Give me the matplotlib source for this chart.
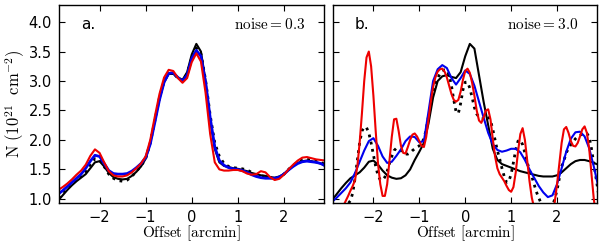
import matplotlib
matplotlib.use("Agg")
import matplotlib.pyplot as plt

plt.rcParams['mathtext.fontset'] = 'cm'
plt.rcParams['font.family'] = ['DejaVu Sans']

offset = [-2.9, -2.8, -2.7, -2.6, -2.5, -2.4, -2.3, -2.2, -2.1, -2.0,
          -1.9, -1.8, -1.7, -1.6, -1.5, -1.4, -1.3, -1.2, -1.1, -1.0,
          -0.9, -0.8, -0.7, -0.6, -0.5, -0.4, -0.3, -0.2, -0.1, 0.0,
          0.1, 0.2, 0.3, 0.4, 0.5, 0.6, 0.7, 0.8, 0.9, 1.0,
          1.1, 1.2, 1.3, 1.4, 1.5, 1.6, 1.7, 1.8, 1.9, 2.0,
          2.1, 2.2, 2.3, 2.4, 2.5, 2.6, 2.7, 2.8, 2.9]

offset_fine = [-2.90, -2.85, -2.80, -2.75, -2.70, -2.65, -2.60, -2.55, -2.50, -2.45,
               -2.40, -2.35, -2.30, -2.25, -2.20, -2.15, -2.10, -2.05, -2.00, -1.95,
               -1.90, -1.85, -1.80, -1.75, -1.70, -1.65, -1.60, -1.55, -1.50, -1.45,
               -1.40, -1.35, -1.30, -1.25, -1.20, -1.15, -1.10, -1.05, -1.00, -0.95,
               -0.90, -0.85, -0.80, -0.75, -0.70, -0.65, -0.60, -0.55, -0.50, -0.45,
               -0.40, -0.35, -0.30, -0.25, -0.20, -0.15, -0.10, -0.05, 0.00, 0.05,
               0.10, 0.15, 0.20, 0.25, 0.30, 0.35, 0.40, 0.45, 0.50, 0.55,
               0.60, 0.65, 0.70, 0.75, 0.80, 0.85, 0.90, 0.95, 1.00, 1.05,
               1.10, 1.15, 1.20, 1.25, 1.30, 1.35, 1.40, 1.45, 1.50, 1.55,
               1.60, 1.65, 1.70, 1.75, 1.80, 1.85, 1.90, 1.95, 2.00, 2.05,
               2.10, 2.15, 2.20, 2.25, 2.30, 2.35, 2.40, 2.45, 2.50, 2.55,
               2.60, 2.65, 2.70, 2.75, 2.80, 2.85, 2.90]

# Panel a (noise = 0.3)
a_true = [0.97, 1.06, 1.15, 1.23, 1.30, 1.36, 1.42, 1.52, 1.62, 1.64,
          1.55, 1.44, 1.37, 1.34, 1.33, 1.34, 1.39, 1.46, 1.55, 1.68,
          1.95, 2.33, 2.70, 2.98, 3.12, 3.12, 3.06, 3.02, 3.15, 3.45,
          3.63, 3.50, 3.00, 2.35, 1.85, 1.62, 1.56, 1.54, 1.52, 1.51,
          1.49, 1.47, 1.44, 1.42, 1.40, 1.39, 1.37, 1.36, 1.38, 1.42,
          1.49, 1.56, 1.61, 1.64, 1.65, 1.64, 1.62, 1.60, 1.56]
a_dot = [1.02, 1.10, 1.18, 1.25, 1.32, 1.39, 1.47, 1.58, 1.68, 1.66,
         1.55, 1.42, 1.35, 1.31, 1.30, 1.32, 1.38, 1.47, 1.56, 1.68,
         1.95, 2.33, 2.72, 3.00, 3.13, 3.13, 3.05, 3.00, 3.12, 3.40,
         3.56, 3.46, 3.02, 2.42, 1.95, 1.72, 1.60, 1.55, 1.53, 1.52,
         1.51, 1.49, 1.45, 1.41, 1.39, 1.38, 1.36, 1.35, 1.37, 1.42,
         1.50, 1.57, 1.62, 1.66, 1.67, 1.66, 1.64, 1.62, 1.58]
a_blue = [1.08, 1.14, 1.21, 1.28, 1.35, 1.42, 1.52, 1.64, 1.74, 1.72,
          1.60, 1.48, 1.43, 1.42, 1.42, 1.43, 1.47, 1.53, 1.60, 1.70,
          1.93, 2.30, 2.68, 2.98, 3.13, 3.14, 3.06, 3.00, 3.10, 3.38,
          3.52, 3.42, 2.98, 2.38, 1.88, 1.65, 1.57, 1.53, 1.51, 1.50,
          1.48, 1.45, 1.41, 1.38, 1.36, 1.35, 1.35, 1.35, 1.37, 1.42,
          1.49, 1.55, 1.60, 1.63, 1.64, 1.63, 1.62, 1.60, 1.56]
a_red = [1.15, 1.20, 1.26, 1.33, 1.41, 1.48, 1.58, 1.73, 1.84, 1.78,
         1.62, 1.47, 1.40, 1.38, 1.38, 1.40, 1.45, 1.52, 1.60, 1.72,
         2.00, 2.40, 2.78, 3.06, 3.19, 3.17, 3.05, 2.97, 3.05, 3.32,
         3.47, 3.33, 2.80, 2.10, 1.62, 1.50, 1.48, 1.48, 1.49, 1.49,
         1.47, 1.43, 1.41, 1.42, 1.47, 1.45, 1.37, 1.32, 1.34, 1.41,
         1.50, 1.58, 1.65, 1.70, 1.71, 1.69, 1.67, 1.66, 1.65]

# Panel b (noise = 3.0)
b_true = [0.98, 1.08, 1.18, 1.27, 1.35, 1.40, 1.45, 1.53, 1.63, 1.65,
          1.58, 1.48, 1.40, 1.36, 1.34, 1.35, 1.40, 1.50, 1.66, 1.80,
          1.95, 2.28, 2.72, 3.00, 3.08, 3.10, 3.07, 3.05, 3.15, 3.42,
          3.63, 3.55, 3.10, 2.65, 2.25, 1.85, 1.66, 1.59, 1.56, 1.53,
          1.50, 1.47, 1.45, 1.43, 1.41, 1.39, 1.38, 1.38, 1.38, 1.40,
          1.45, 1.52, 1.59, 1.64, 1.66, 1.66, 1.64, 1.61, 1.58]
b_blue = [0.95, 1.02, 1.10, 1.18, 1.28, 1.44, 1.63, 1.82, 1.98, 2.03,
          1.90, 1.72, 1.61, 1.63, 1.73, 1.84, 1.98, 2.06, 2.05, 1.96,
          1.98, 2.48, 3.00, 3.20, 3.27, 3.22, 3.05, 2.94, 3.05, 3.18,
          3.12, 2.92, 2.65, 2.38, 2.12, 1.93, 1.83, 1.80, 1.82, 1.85,
          1.85, 1.79, 1.66, 1.50, 1.36, 1.22, 1.11, 1.03, 1.06, 1.25,
          1.52, 1.80, 2.02, 2.13, 2.14, 2.06, 1.86, 1.55, 1.20]
b_dot = [0.70, 0.70, 0.72, 0.74, 0.78, 0.82, 0.87, 0.92, 0.97, 1.10,
         1.35, 1.65, 1.95, 2.15, 2.22, 2.21, 2.12, 1.95, 1.75, 1.55,
         1.40, 1.32, 1.32, 1.37, 1.47, 1.60, 1.72, 1.82, 1.86, 1.85,
         1.82, 1.78, 1.76, 1.76, 1.78, 1.82, 1.85, 1.88, 1.90, 1.95,
         2.02, 2.18, 2.40, 2.60, 2.80, 2.95, 3.05, 3.12, 3.17, 3.19,
         3.19, 3.10, 2.92, 2.68, 2.48, 2.45, 2.62, 2.85, 2.98, 2.98,
         2.88, 2.72, 2.55, 2.44, 2.39, 2.36, 2.36, 2.39, 2.40, 2.33,
         2.18, 2.00, 1.82, 1.68, 1.52, 1.38, 1.28, 1.30, 1.42, 1.62,
         1.83, 1.98, 2.00, 1.92, 1.78, 1.62, 1.48, 1.38, 1.25, 1.12,
         1.02, 0.93, 0.85, 0.79, 0.76, 0.80, 0.88, 1.00, 1.15, 1.35,
         1.55, 1.65, 1.78, 1.86, 1.92, 1.97, 2.02, 2.06, 2.08, 2.10,
         2.11, 2.11, 2.05, 1.85, 1.60, 1.35, 1.10]
b_red = [0.70, 0.70, 0.72, 0.76, 0.82, 0.89, 0.97, 1.05, 1.14, 1.22,
         1.32, 1.55, 1.95, 2.45, 3.00, 3.40, 3.50, 3.25, 2.75, 2.15,
         1.60, 1.25, 1.05, 1.05, 1.25, 1.65, 2.05, 2.35, 2.36, 2.15,
         1.90, 1.78, 1.77, 1.88, 2.00, 2.09, 2.11, 2.06, 1.98, 1.90,
         1.88, 2.05, 2.35, 2.65, 2.90, 3.06, 3.16, 3.20, 3.21, 3.16,
         3.06, 2.92, 2.78, 2.68, 2.65, 2.68, 2.82, 3.02, 3.17, 3.21,
         3.14, 2.97, 2.75, 2.50, 2.33, 2.29, 2.38, 2.50, 2.52, 2.35,
         2.02, 1.72, 1.52, 1.42, 1.36, 1.30, 1.22, 1.15, 1.12, 1.20,
         1.45, 1.80, 2.10, 2.20, 2.00, 1.65, 1.30, 1.02, 0.85, 0.72,
         0.62, 0.55, 0.50, 0.50, 0.52, 0.60, 0.75, 0.95, 1.25, 1.60,
         1.95, 2.18, 2.22, 2.12, 1.98, 1.90, 1.89, 1.95, 2.06, 2.18,
         2.23, 2.12, 1.85, 1.42, 1.00, 0.70, 0.50]

yticks = [1.0, 1.5, 2.0, 2.5, 3.0, 3.5, 4.0]
xticks = [-2, -1, 0, 1, 2]

fig = plt.figure(figsize=(6.0, 2.45), dpi=100)
ax1 = fig.add_axes([59/600, 42/245, 265/600, 198/245])
ax2 = fig.add_axes([333/600, 42/245, 264/600, 198/245])

panels = [(ax1, offset, a_true, a_dot, a_blue, a_red, 'a.', r'$\mathrm{noise}=0.3$', 2.0),
          (ax2, offset_fine, b_true, b_dot, b_blue, b_red, 'b.', r'$\mathrm{noise}=3.0$', 1.5)]

for ax, xf, tr, dt, bl, rd, lab, noise, blw in panels:
    ax.plot(xf, dt, color='black', ls=':', lw=2.0)
    ax.plot(offset, tr, color='black', lw=1.5)
    ax.plot(offset, bl, color='#0000ee', lw=blw)
    ax.plot(xf, rd, color='#ee0000', lw=1.5)
    ax.set_xlim(-2.88, 2.87)
    ax.set_ylim(0.93, 4.29)
    ax.set_xticks(xticks)
    ax.set_xticklabels(['\u22122', '\u22121', '0', '1', '2'])
    ax.set_yticks(yticks)
    ax.tick_params(direction='in', top=True, right=True, length=4, width=0.8,
                   labelsize=10.5, pad=5)
    for s in ax.spines.values():
        s.set_linewidth(1.0)
    ax.text(0.083, 0.9, lab, transform=ax.transAxes, fontsize=11, ha='left', va='center')
    ax.text(0.929, 0.9, noise, transform=ax.transAxes, fontsize=11, ha='right', va='center')
    ax.set_xlabel(r'$\mathrm{Offset\ [arcmin]}$', fontsize=11, labelpad=-1)

ax1.set_yticklabels(['1.0', '1.5', '2.0', '2.5', '3.0', '3.5', '4.0'])
ax2.set_yticklabels([])
ax1.set_ylabel(r'$\mathrm{N\ (10^{21}\ \ cm^{-2})}$', fontsize=12, labelpad=1)

fig.savefig('out.png', dpi=100)
